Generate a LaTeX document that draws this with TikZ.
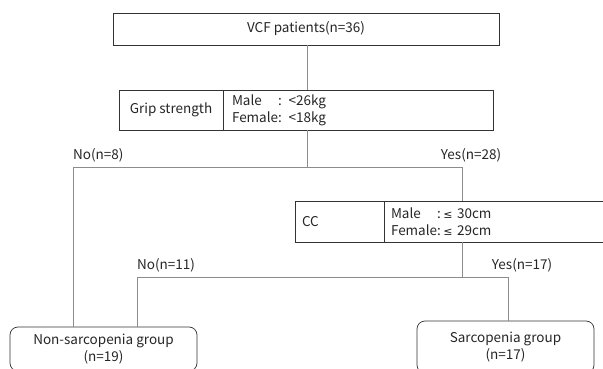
\documentclass[tikz,border=0pt]{standalone}
\usepackage{calc}
\usepackage{fontspec}
\setmainfont{Noto Sans CJK JP}
\newfontfamily\symfont{DejaVu Sans}
\newcommand\lesseq{{\symfont\fontsize{11}{11}\selectfont ≤}}
\usetikzlibrary{calc,positioning}

\begin{document}
\begin{tikzpicture}[x=1pt,y=-1pt,
    box/.style={draw=black!80, line width=0.7pt, fill=white, inner sep=0pt,
      text=black!85, font=\fontsize{13.5}{17}\selectfont},
    crit/.style={box, align=left},
    grp/.style={box, rounded corners=8pt, align=center},
    link/.style={draw=black!45, line width=0.6pt},
    lbl/.style={text=black!85, inner sep=0pt, font=\fontsize{13.5}{14}\selectfont}]
        \useasboundingbox (0,0) rectangle (603,369);
        \clip (0,0) rectangle (603,369);
        % Split points of the tree
        \coordinate (split1) at (307,167);
        \coordinate (noL) at (73,167);
        \coordinate (yesR) at (462,167);
        \coordinate (split2) at (462,277);
        \coordinate (noL2) at (137,277);
        \coordinate (yesR2) at (508,277);
        % Connectors first, boxes cover them
        \draw[link] (split1) -- (noL);
        \draw[link] (split1) -- (yesR);
        \draw[link] (yesR) -- (split2);
        \draw[link] (split2) -- (noL2);
        \draw[link] (split2) -- (yesR2);
        % Boxes
        \node[box, minimum width=386, minimum height=32] (vcf) at (306,29) {VCF patients(n=36)};
        \node[box, minimum width=104, minimum height=40] (gripL) at (171,110) {Grip strength};
        \node[crit, minimum width=270, minimum height=40, inner xsep=9pt, text width=252pt] (gripR) at (358,110)
          {\makebox[\widthof{Female}][l]{Male}: <26kg\\Female: <18kg};
        \node[crit, minimum width=89, minimum height=41, inner xsep=7pt, text width=75pt] (ccL) at (339.5,221.5) {CC};
        \node[crit, minimum width=240, minimum height=41, inner xsep=7pt, text width=226pt] (ccR) at (504,221.5)
          {\makebox[\widthof{Female}][l]{Male}:\hspace{2.5pt}\lesseq\ 30cm\\Female:\hspace{2.5pt}\lesseq\ 29cm};
        \node[grp, minimum width=187, minimum height=44] (nonsarc) at (103.5,349) {Non-sarcopenia group\\(n=19)};
        \node[grp, minimum width=177, minimum height=52] (sarc) at (505.5,347) {Sarcopenia group\\(n=17)};
        % Vertical connectors to the boxes
        \draw[link] (vcf.south -| split1) -- (gripR.north -| split1);
        \draw[link] (gripR.south -| split1) -- (split1);
        \draw[link] (noL) -- (noL |- nonsarc.north);
        \draw[link] (noL2) -- (noL2 |- nonsarc.north);
        \draw[link] (yesR2) -- (yesR2 |- sarc.north);
        \draw[link] (ccR.south -| split2) -- (split2);
        % Branch labels
        \node[lbl, anchor=west] (no8) at ([yshift=12pt]noL) {No(n=8)};
        \node[lbl] (yes28) at ([xshift=9pt,yshift=12pt]yesR) {Yes(n=28)};
        \node[lbl, anchor=west] (no11) at ([yshift=12pt]noL2) {No(n=11)};
        \node[lbl] (yes17) at ([xshift=14pt,yshift=12pt]yesR2) {Yes(n=17)};
    \end{tikzpicture}
\end{document}
